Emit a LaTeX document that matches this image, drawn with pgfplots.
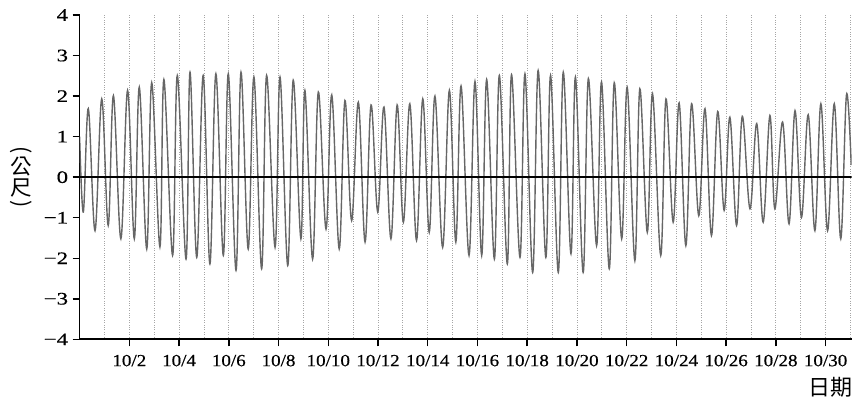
\documentclass[border=0pt]{standalone}
\usepackage{fontspec}
\setmainfont{Liberation Serif}
\newfontfamily\xtickfont[FakeStretch=1.12, FakeBold=0.5]{Liberation Serif}
\newfontfamily\ytickfont[FakeStretch=1.3, FakeBold=0.5]{Liberation Serif}
\newfontfamily\cjk{Noto Sans CJK TC}
\usepackage{graphicx}
\usepackage{pgfplots}
\pgfplotsset{compat=1.18}
\begin{document}
\begin{tikzpicture}
\begin{axis}[
  name=ax,
  scale only axis,
  width=772pt, height=324.3pt,
  xmin=0, xmax=31.05, ymin=-4, ymax=4,
  axis x line=bottom, axis y line=left,
  axis line style={-, line width=1.7pt, black},
  tick align=outside,
  major tick length=7pt,
  minor tick length=0pt,
  tick style={line width=1.5pt, black},
  xtick={2,4,...,30},
  xticklabels={10/2,10/4,10/6,10/8,10/10,10/12,10/14,10/16,10/18,10/20,10/22,10/24,10/26,10/28,10/30},
  minor xtick={1,3,...,31},
  ytick={-4,-3,...,4},
  yticklabels={−4,−3,−2,−1,0,1,2,3,4},
  xmajorgrids, xminorgrids,
  major grid style={gray!70, dotted, line width=0.8pt},
  minor grid style={gray!70, dotted, line width=0.8pt},
  xticklabel style={font=\xtickfont\fontsize{17}{19}\selectfont, yshift=-5pt},
  yticklabel style={font=\ytickfont\fontsize{17.5}{19}\selectfont, xshift=-1pt},
  xlabel={日期},
  xlabel style={font=\cjk\fontsize{22}{24}\selectfont, at={(axis description cs:0.972,-0.147)}, anchor=center},
  ylabel={\shortstack{\rotatebox{-90}{(}\\公\\尺\\\rotatebox{-90}{)}}},
  ylabel style={font=\cjk\fontsize{21.5}{24}\selectfont, rotate=-90, at={(axis description cs:-0.076,0.5)}, anchor=center},
]
\addplot[black!60, line width=1.4pt, smooth, tension=0.6] coordinates {
(0.00,1.00) (0.15,-0.86) (0.35,1.69) (0.62,-1.32) (0.89,1.93) (1.15,-1.19)
(1.36,2.01) (1.66,-1.52) (1.93,2.14) (2.20,-1.52) (2.40,2.22) (2.70,-1.77)
(2.90,2.33) (3.23,-1.72) (3.39,2.41) (3.74,-1.93) (3.93,2.51) (4.28,-2.02)
(4.44,2.59) (4.71,-1.98) (4.97,2.51) (5.24,-2.14) (5.48,2.55) (5.78,-1.93)
(5.98,2.55) (6.29,-2.30) (6.49,2.59) (6.78,-1.77) (7.01,2.47) (7.32,-2.26)
(7.52,2.51) (7.86,-1.73) (8.06,2.47) (8.37,-2.18) (8.59,2.39) (8.90,-1.52)
(9.06,2.14) (9.37,-2.02) (9.60,2.10) (9.91,-1.28) (10.14,2.03) (10.44,-1.77)
(10.67,1.89) (10.94,-1.07) (11.21,1.85) (11.48,-1.60) (11.72,1.78) (11.99,-0.86)
(12.24,1.73) (12.52,-1.52) (12.77,1.78) (13.02,-1.11) (13.28,1.81) (13.55,-1.56)
(13.80,1.93) (14.06,-1.36) (14.29,2.00) (14.60,-1.73) (14.87,2.14) (15.13,-1.60)
(15.34,2.25) (15.66,-1.93) (15.90,2.36) (16.17,-1.93) (16.37,2.41) (16.68,-2.02)
(16.88,2.51) (17.20,-2.14) (17.37,2.53) (17.71,-1.98) (17.91,2.55) (18.22,-2.35)
(18.44,2.63) (18.75,-1.98) (18.94,2.51) (19.25,-2.35) (19.45,2.59) (19.76,-1.89)
(19.94,2.47) (20.25,-2.35) (20.46,2.43) (20.79,-1.69) (20.99,2.35) (21.30,-2.26)
(21.50,2.33) (21.80,-1.52) (22.02,2.22) (22.33,-2.06) (22.53,2.18) (22.83,-1.36)
(23.04,2.06) (23.37,-1.93) (23.58,1.93) (23.87,-1.11) (24.11,1.83) (24.38,-1.69)
(24.61,1.81) (24.90,-0.95) (25.15,1.69) (25.41,-1.44) (25.66,1.62) (25.92,-0.82)
(26.15,1.48) (26.42,-1.19) (26.65,1.50) (26.96,-0.78) (27.23,1.32) (27.49,-1.11)
(27.76,1.52) (27.96,-0.78) (28.27,1.36) (28.53,-1.15) (28.77,1.64) (29.03,-0.99)
(29.30,1.54) (29.57,-1.32) (29.81,1.81) (30.08,-1.32) (30.35,1.81) (30.61,-1.52)
(30.84,2.03) (31.03,0.30)
};
\addplot[black, line width=1.7pt] coordinates {(0,0) (31.05,0)};
\end{axis}
\pgfresetboundingbox
\path[use as bounding box] ([xshift=-79.6pt,yshift=-57.7pt]ax.south west) rectangle ([xshift=4.3pt,yshift=15pt]ax.north east);
\end{tikzpicture}
\end{document}
